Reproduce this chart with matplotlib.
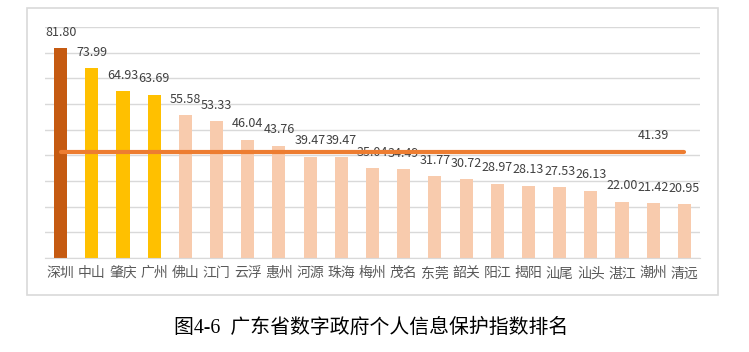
import matplotlib
matplotlib.use('Agg')
import matplotlib.pyplot as plt
from matplotlib.patches import Rectangle

plt.rcParams['font.family'] = ['Noto Sans CJK SC', 'DejaVu Sans']

cities = ['深圳', '中山', '肇庆', '广州', '佛山', '江门', '云浮', '惠州', '河源', '珠海', '梅州',
          '茂名', '东莞', '韶关', '阳江', '揭阳', '汕尾', '汕头', '湛江', '潮州', '清远']
scores = [81.80, 73.99, 64.93, 63.69, 55.58, 53.33, 46.04, 43.76, 39.47, 39.47, 35.04,
          34.49, 31.77, 30.72, 28.97, 28.13, 27.53, 26.13, 22.00, 21.42, 20.95]
average = 41.39
caption = '图4-6  广东省数字政府个人信息保护指数排名'

# first place dark orange, 2nd-4th gold, the rest light peach
colors = ['#C55A11'] + ['#FFC000'] * 3 + ['#F8CBAD'] * (len(scores) - 4)

W, H = 749, 352
fig = plt.figure(figsize=(W / 100, H / 100), dpi=100)
ax = fig.add_axes([45 / W, 1 - 258 / H, 655 / W, 231 / H])

x = list(range(len(scores)))
ax.bar(x, scores, width=0.42, color=colors, zorder=2)
for xi, v in zip(x, scores):
    ax.annotate('%.2f' % v, (xi, v), xytext=(0, 11.5), textcoords='offset points',
                ha='center', va='center', fontsize=9, color='#404040')

# average line from first to last bar
ax.plot([x[0], x[-1]], [average, average], color='#ED7D31', lw=3, zorder=3,
        solid_capstyle='round')
ax.annotate('%.2f' % average, (x[-2], average), xytext=(0, 12), textcoords='offset points',
            ha='center', va='center', fontsize=9, color='#404040')

ax.set_xlim(-0.5, len(scores) - 0.5)
ax.set_ylim(0, 90)
ax.set_yticks(range(0, 91, 10))
ax.yaxis.grid(True, color='#D9D9D9', lw=1)
ax.set_axisbelow(True)
ax.tick_params(axis='y', left=False, labelleft=False)
ax.tick_params(axis='x', length=0, pad=6, labelsize=10, labelcolor='#595959')
ax.set_xticks(x)
ax.set_xticklabels(cities)
for s in ['top', 'right', 'left']:
    ax.spines[s].set_visible(False)
ax.spines['bottom'].set_color('#D9D9D9')

# chart frame
fig.patches.append(Rectangle((27 / W, 1 - 295 / H), 691 / W, 287 / H, transform=fig.transFigure,
                             fill=False, edgecolor='#D9D9D9', lw=1.2))

fig.text(371 / W, 1 - 328 / H, caption, ha='center', va='center', fontsize=14.3,
         color='black', family=['Liberation Serif', 'Noto Sans CJK SC'])

fig.savefig('out.png', dpi=100)
